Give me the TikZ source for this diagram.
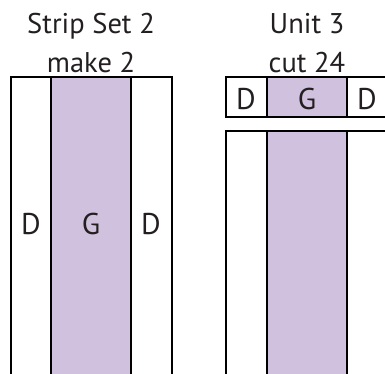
\documentclass[tikz,border=0pt]{standalone}
\usepackage{fontspec}
\setmainfont{PT Sans}
\definecolor{lilac}{RGB}{208,193,222}
\definecolor{ink}{RGB}{35,31,32}
\begin{document}
\begin{tikzpicture}[x=1pt,y=-1pt,line width=1.2pt,
    strip/.style={draw=black,fill=white},
    gstrip/.style={draw=black,fill=lilac},
    lbl/.style={text=ink,font=\fontsize{30}{30}\selectfont,inner sep=0pt},
    ttl/.style={text=ink,font=\fontsize{28.5}{28.5}\selectfont,inner sep=0pt,anchor=base}]
      \useasboundingbox(0,0)rectangle(385,373);
      % strip set
      \begin{scope}[shift={(11,77)}]
        \filldraw[strip](0,0)rectangle(40,300);
        \filldraw[gstrip](40,0)rectangle(120,300);
        \filldraw[strip](120,0)rectangle(161,300);
        \node[lbl] (d1) at (20,147){D};
        \node[lbl] (g1) at (80,147){G};
        \node[lbl] (d2) at (140,147){D};
      \end{scope}
      \node[ttl] (t1) at (91,33){Strip Set 2};
      \node[ttl] (t2) at (91,72){make 2};

      % unit
      \begin{scope}[shift={(226,77)}]
        \filldraw[strip](0,0)rectangle(41,40);
        \filldraw[gstrip](41,0)rectangle(121,40);
        \filldraw[strip](121,0)rectangle(162,40);
        \node[lbl] (d3) at (20,22){D};
        \node[lbl] (g2) at (81,22){G};
        \node[lbl] (d4) at (141,22){D};
      \end{scope}
      \begin{scope}[shift={(226,131)}]
        \filldraw[strip](0,0)rectangle(41,250);
        \filldraw[gstrip](41,0)rectangle(121,250);
        \filldraw[strip](121,0)rectangle(162,250);
      \end{scope}
      \node[ttl] (t3) at (307,33){Unit 3};
      \node[ttl] (t4) at (307,72){cut 24};
    \end{tikzpicture}
\end{document}
